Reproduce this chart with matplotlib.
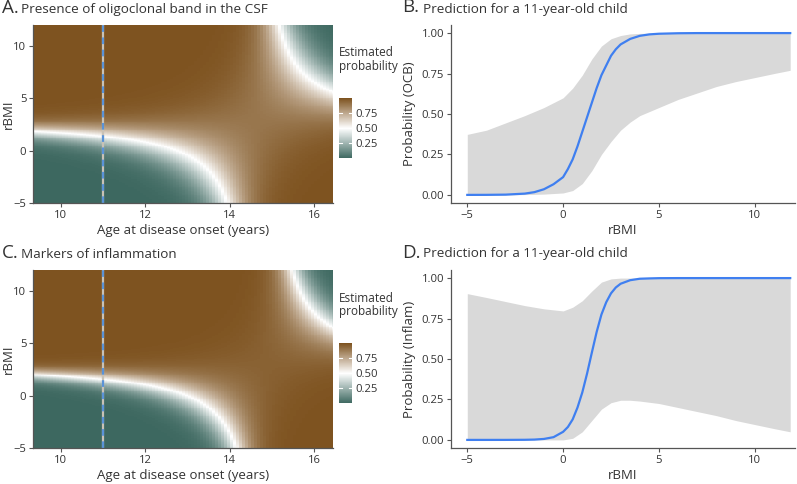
import numpy as np
import matplotlib
matplotlib.use("Agg")
import matplotlib.pyplot as plt
from matplotlib.colors import LinearSegmentedColormap

plt.rcParams["font.family"] = ["Open Sans", "DejaVu Sans"]

# logistic model estimates: logit = b0 + b1*age + b2*rBMI + b3*age*rBMI
coef_ocb = [-14.88, 1.167, 6.088, -0.417]
coef_inflam = [-21.23, 1.635, 8.093, -0.545]
age_range = [9.35, 16.45]
rbmi_range = [-5, 12]
child_age = 11

r_line = [-5, -4, -3, -2, -1.5, -1, -0.5, 0, 0.25, 0.5, 0.75, 1, 1.25, 1.5, 1.75,
          2, 2.25, 2.5, 2.75, 3, 3.5, 4, 4.5, 5, 6, 7, 8, 9, 10, 11, 11.85]
p_ocb = [0.0001, 0.0004, 0.0017, 0.008, 0.017, 0.035, 0.066, 0.11, 0.16, 0.22, 0.30,
         0.39, 0.48, 0.57, 0.66, 0.74, 0.80, 0.86, 0.90, 0.93, 0.964, 0.983, 0.992,
         0.996, 0.999, 1.0, 1.0, 1.0, 1.0, 1.0, 1.0]
p_inflam = [0.0, 0.0, 0.0001, 0.0007, 0.002, 0.006, 0.017, 0.05, 0.08, 0.127, 0.20,
            0.293, 0.41, 0.54, 0.667, 0.775, 0.851, 0.906, 0.942, 0.965, 0.987, 0.996,
            0.998, 0.9995, 1.0, 1.0, 1.0, 1.0, 1.0, 1.0, 1.0]

r_band = [-5, -4, -3, -2, -1, 0, 0.5, 1, 1.5, 2, 2.5, 3, 3.5, 4, 5, 6, 7, 8, 9, 10, 11, 11.85]
ocb_lo = [0.0, 0.0, 0.0, 0.002, 0.005, 0.012, 0.027, 0.07, 0.15, 0.25, 0.33, 0.40, 0.45,
          0.49, 0.54, 0.59, 0.63, 0.67, 0.70, 0.725, 0.75, 0.77]
ocb_hi = [0.374, 0.40, 0.445, 0.49, 0.54, 0.60, 0.66, 0.74, 0.84, 0.92, 0.965, 0.985,
          0.995, 0.998, 1.0, 1.0, 1.0, 1.0, 1.0, 1.0, 1.0, 1.0]
inf_lo = [0.0, 0.0, 0.0, 0.0, 0.0, 0.0, 0.01, 0.05, 0.12, 0.19, 0.23, 0.245, 0.245,
          0.24, 0.225, 0.20, 0.175, 0.15, 0.12, 0.095, 0.07, 0.05]
inf_hi = [0.904, 0.88, 0.855, 0.83, 0.81, 0.797, 0.82, 0.86, 0.92, 0.975, 0.995, 1.0,
          1.0, 1.0, 1.0, 1.0, 1.0, 1.0, 1.0, 1.0, 1.0, 1.0]

titles = ["Presence of oligoclonal band in the CSF", "Prediction for a 11-year-old child",
          "Markers of inflammation", "Prediction for a 11-year-old child"]
letters = ["A.", "B.", "C.", "D."]
ylabels = ["Probability (OCB)", "Probability (Inflam)"]

cmap = LinearSegmentedColormap.from_list("bt", ["#3d6860", "#ffffff", "#7e5320"])
txt = "#333333"
W, H = 797, 484


def fx(px):
    return px / W


def fy(px):
    return 1 - px / H


fig = plt.figure(figsize=(W / 100, H / 100), dpi=100)


def style(ax):
    for s in ["top", "right"]:
        ax.spines[s].set_visible(False)
    for s in ["left", "bottom"]:
        ax.spines[s].set_color("#555555")
        ax.spines[s].set_linewidth(0.9)
    ax.tick_params(colors="#555555", labelcolor=txt, labelsize=8.1, length=3, width=0.8, pad=2)


def heat(top, coef, title, letter):
    ax = fig.add_axes([fx(33.3), fy(top + 178), fx(300), 178 / H])
    ages = np.linspace(age_range[0], age_range[1], 101)
    rb = np.linspace(rbmi_range[0], rbmi_range[1], 201)
    A, R = np.meshgrid(ages, rb)
    lg = coef[0] + coef[1] * A + coef[2] * R + coef[3] * A * R
    P = 1 / (1 + np.exp(-lg))
    m = ax.pcolormesh(A, R, P, cmap=cmap, vmin=0, vmax=1, shading="nearest", rasterized=True)
    ax.set_xlim(age_range)
    ax.set_ylim(rbmi_range)
    ax.axvline(child_age, color="#c9c2b6", lw=1.6)
    ax.axvline(child_age, color="#5a93d8", lw=1.6, dashes=(3, 2.5))
    ax.set_xticks([10, 12, 14, 16])
    ax.set_yticks([-5, 0, 5, 10])
    style(ax)
    ax.set_xlabel("Age at disease onset (years)", fontsize=9.5, color=txt, labelpad=2)
    ax.set_ylabel("rBMI", fontsize=9.5, color=txt)
    ax.yaxis.set_label_coords((14.5 - 33.3) / 300, 0.5)
    fig.text(fx(1.5), fy(top - 11.7), letter, fontsize=13.5, color=txt, va="baseline")
    fig.text(fx(20.7), fy(top - 11.7), title, fontsize=9.7, color=txt, va="baseline")
    # colour bar
    cax = fig.add_axes([fx(339.3), fy(top + 133.3), fx(12.4), 60 / H])
    cb = fig.colorbar(m, cax=cax)
    cb.outline.set_visible(False)
    cb.set_ticks([0.25, 0.5, 0.75])
    cax.tick_params(length=0, labelsize=8.1, labelcolor=txt, pad=3)
    for v in [0.25, 0.5, 0.75]:
        cax.plot([0, 0.2], [v, v], color="white", lw=0.8, transform=cax.get_yaxis_transform())
        cax.plot([0.8, 1], [v, v], color="white", lw=0.8, transform=cax.get_yaxis_transform())
    fig.text(fx(338.5), fy(top + 48), "Estimated\nprobability", fontsize=8.5, color=txt,
             va="bottom", ha="left", linespacing=1.05)


def pred(top, p_line, lo, hi, title, letter, ylabel):
    ax = fig.add_axes([fx(451), fy(top + 178), fx(344), 178 / H])
    ax.fill_between(r_band, lo, hi, color="#d9d9d9", lw=0)
    ax.plot(r_line, p_line, color="#3f7ff0", lw=1.6)
    ax.set_xlim(-5.85, 12.1)
    ax.set_ylim(-0.05, 1.05)
    ax.set_xticks([-5, 0, 5, 10])
    ax.set_xticklabels(["\u22125", "0", "5", "10"])
    ax.set_yticks([0, 0.25, 0.5, 0.75, 1.0])
    ax.set_yticklabels(["0.00", "0.25", "0.50", "0.75", "1.00"])
    style(ax)
    ax.set_xlabel("rBMI", fontsize=9.5, color=txt, labelpad=2)
    ax.set_ylabel(ylabel, fontsize=9.5, color=txt)
    ax.yaxis.set_label_coords((416 - 451) / 344, 0.5)
    fig.text(fx(402.5), fy(top - 12.5), letter, fontsize=13.5, color=txt, va="baseline")
    fig.text(fx(423.3), fy(top - 12.5), title, fontsize=9.7, color=txt, va="baseline")


heat(25, coef_ocb, titles[0], letters[0])
pred(25, p_ocb, ocb_lo, ocb_hi, titles[1], letters[1], ylabels[0])
heat(270, coef_inflam, titles[2], letters[2])
pred(270, p_inflam, inf_lo, inf_hi, titles[3], letters[3], ylabels[1])

fig.savefig("out.png", dpi=100)
